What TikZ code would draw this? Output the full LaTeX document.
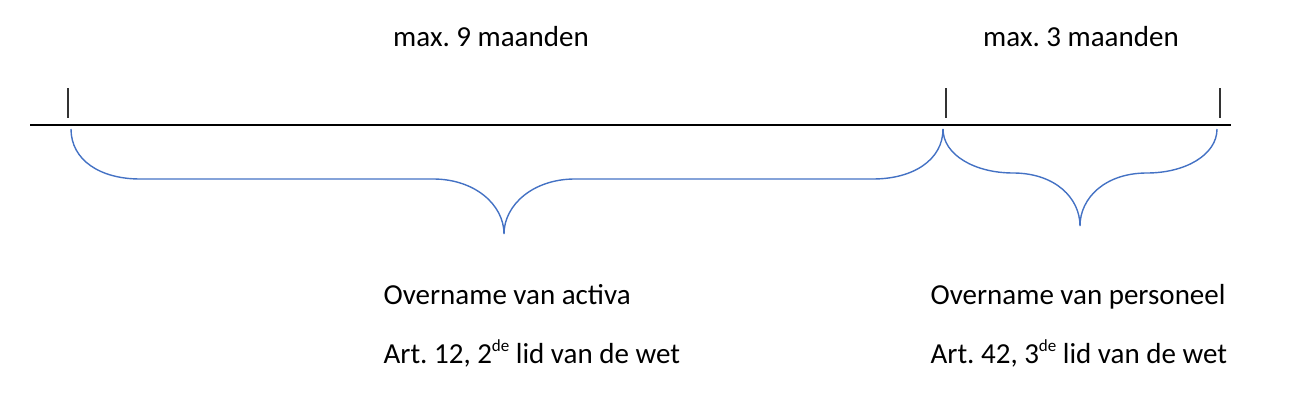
\documentclass[tikz,border=0pt]{standalone}
\usepackage{fontspec}
\setmainfont{Carlito}
\usepackage{tikz}
\usetikzlibrary{positioning}
\definecolor{braceblue}{HTML}{4472C4}
\newcommand{\rang}[1]{\raisebox{0.42em}{\fontsize{8.5}{10}\selectfont #1}}
\frenchspacing

\begin{document}
\begin{tikzpicture}[x=0.5pt,y=-0.5pt,semithick,tickmark/.style={draw=black!80,line width=1pt},brace/.style={draw=braceblue,line width=0.7pt},period/.style={anchor=base,inner sep=0pt,font=\fontsize{14.5}{17}\selectfont},rule/.style={anchor=base west,inner sep=0pt,font=\fontsize{14.5}{17}\selectfont}]
	\useasboundingbox (0,0) rectangle (1290,410);
	\coordinate		(start)		at (30,125);
	\coordinate		(end)		at (1231,125);
	\coordinate		(t0)		at (68,125);
	\coordinate		(t9)		at (946,125);
	\coordinate		(t12)		at (1220,125);
	\coordinate		(tip9)		at (504,234);
	\coordinate		(tip3)		at (1080,226);
	
	\node[period]	(max9)		at (491,47)		{max. 9 maanden};
	\node[period]	(max3)		at (1081,47)	{max. 3 maanden};
	\node[rule]		(activa)	at (383,305)	{Overname van activa};
	\node[rule]		(art12)		[below=29.5pt of activa.base west,anchor=base west]	{Art. 12, 2\rang{de} lid van de wet};
	\node[rule]		(personeel)	at (930,305)	{Overname van personeel};
	\node[rule]		(art42)		[below=29.5pt of personeel.base west,anchor=base west]	{Art. 42, 3\rang{de} lid van de wet};
	
	\draw[line width=0.75pt] (start) -- (end);
	\draw[tickmark] (t0) ++(0,-7) -- ++(0,-30);
	\draw[tickmark] (t9) ++(0,-7) -- ++(0,-30);
	\draw[tickmark] (t12) ++(0,-7) -- ++(0,-30);
	
	\draw[brace] (71,129) .. controls (71,160) and (100,179) .. (140,179) -- (433,179)
		.. controls (475,179) and (504,205) .. (tip9)
		.. controls (504,205) and (533,179) .. (575,179) -- (873,179)
		.. controls (913,179) and (943,160) .. (943,129);
	\draw[brace] (943,129) .. controls (943,155) and (975,173) .. (1013,173)
		.. controls (1055,173) and (1080,198) .. (tip3)
		.. controls (1080,198) and (1105,173) .. (1147,173)
		.. controls (1185,173) and (1217,155) .. (1217,129);
\end{tikzpicture}
\end{document}
